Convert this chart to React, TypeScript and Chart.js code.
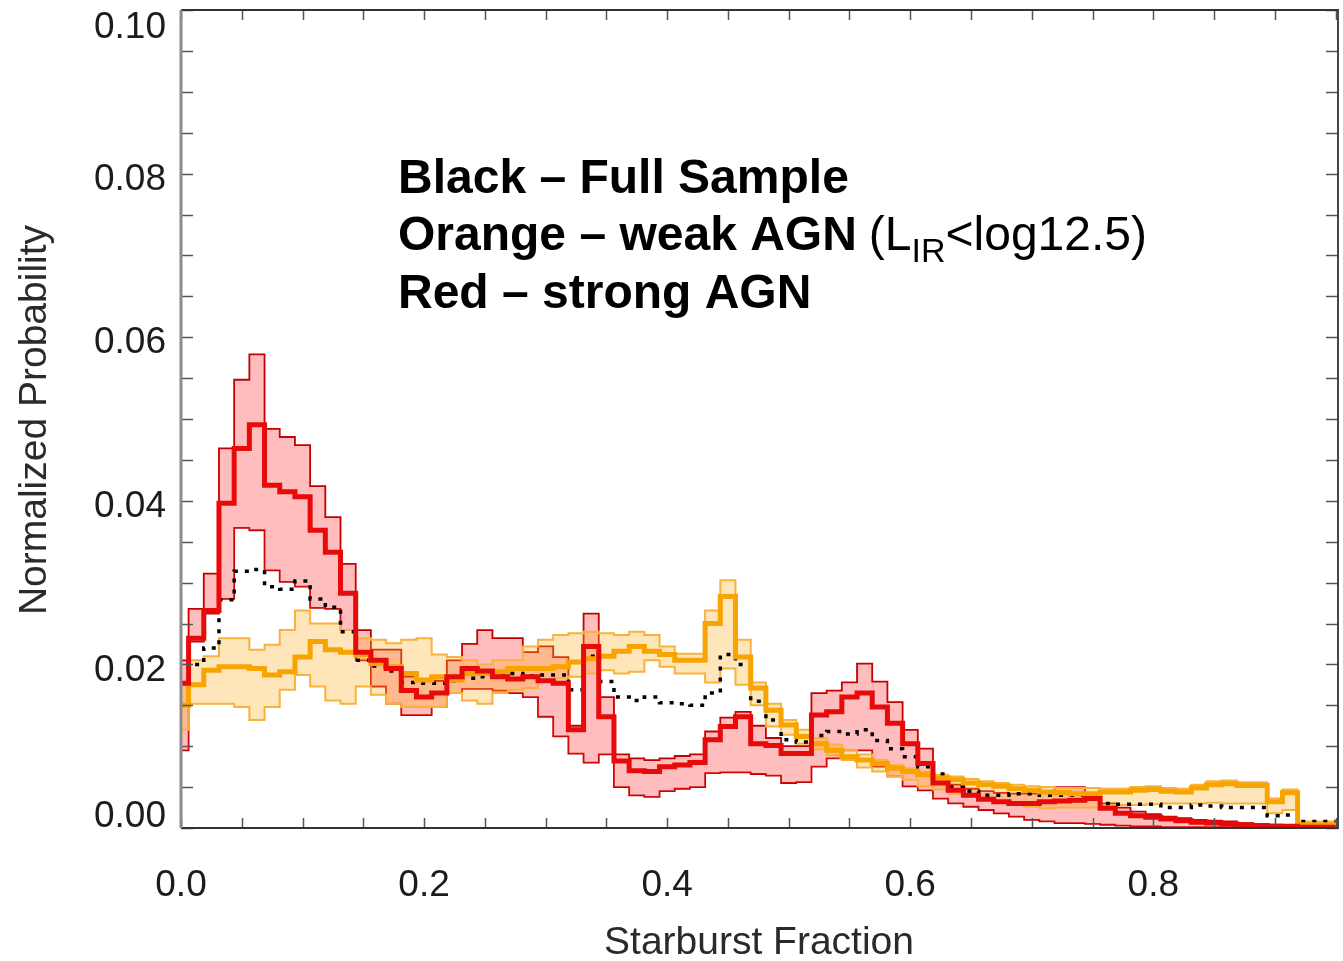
import React, { useEffect, useRef } from "react";
import { Chart, registerables } from "chart.js";

Chart.register(...registerables);

const W = 1343;
const H = 961;

// Bin centres of the histogram (starburst fraction)
const starburstFraction = [
  0.0, 0.0125, 0.025, 0.0375, 0.05, 0.0625, 0.075, 0.0875, 0.1, 0.1125,
  0.125, 0.1375, 0.15, 0.1625, 0.175, 0.1875, 0.2, 0.2125, 0.225, 0.2375,
  0.25, 0.2625, 0.275, 0.2875, 0.3, 0.3125, 0.325, 0.3375, 0.35, 0.3625,
  0.375, 0.3875, 0.4, 0.4125, 0.425, 0.4375, 0.45, 0.4625, 0.475, 0.4875,
  0.5, 0.5125, 0.525, 0.5375, 0.55, 0.5625, 0.575, 0.5875, 0.6, 0.6125,
  0.625, 0.6375, 0.65, 0.6625, 0.675, 0.6875, 0.7, 0.7125, 0.725, 0.7375,
  0.75, 0.7625, 0.775, 0.7875, 0.8, 0.8125, 0.825, 0.8375, 0.85, 0.8625,
  0.875, 0.8875, 0.9, 0.9125, 0.925, 0.9375, 0.95,
];

// Red – strong AGN
const strongAGN = [
  0.0177, 0.0232, 0.0266, 0.0397, 0.0464, 0.0493, 0.0419, 0.0411, 0.0405, 0.0364,
  0.0337, 0.0287, 0.0215, 0.0205, 0.0195, 0.0168, 0.0160, 0.0165, 0.0185, 0.0195,
  0.0192, 0.0185, 0.0182, 0.0185, 0.0180, 0.0177, 0.0120, 0.0222, 0.0136, 0.0082,
  0.0070, 0.0069, 0.0075, 0.0077, 0.0080, 0.0108, 0.0124, 0.0136, 0.0103, 0.0101,
  0.0091, 0.0091, 0.0138, 0.0142, 0.0160, 0.0165, 0.0148, 0.0128, 0.0103, 0.0079,
  0.0055, 0.0046, 0.0040, 0.0035, 0.0032, 0.0030, 0.0030, 0.0032, 0.0033, 0.0034,
  0.0036, 0.0024, 0.0018, 0.0015, 0.0013, 0.0011, 0.0009, 0.0007, 0.0006, 0.0005,
  0.0004, 0.0003, 0.0002, 0.0002, 0.0001, 0.0001, 0.0001,
];
const strongAGNUpper = [
  0.0205, 0.0268, 0.0311, 0.0464, 0.0548, 0.0579, 0.0488, 0.0478, 0.0468, 0.0418,
  0.0380, 0.0323, 0.0242, 0.0218, 0.0218, 0.0185, 0.0182, 0.0180, 0.0205, 0.0225,
  0.0242, 0.0232, 0.0232, 0.0215, 0.0222, 0.0209, 0.0125, 0.0262, 0.0160, 0.0090,
  0.0085, 0.0083, 0.0085, 0.0088, 0.0090, 0.0118, 0.0135, 0.0142, 0.0125, 0.0110,
  0.0100, 0.0100, 0.0165, 0.0168, 0.0178, 0.0201, 0.0179, 0.0154, 0.0120, 0.0097,
  0.0060, 0.0053, 0.0048, 0.0045, 0.0043, 0.0042, 0.0042, 0.0043, 0.0050, 0.0050,
  0.0040, 0.0030, 0.0025, 0.0020, 0.0017, 0.0014, 0.0012, 0.0010, 0.0009, 0.0008,
  0.0006, 0.0005, 0.0004, 0.0003, 0.0003, 0.0002, 0.0002,
];
const strongAGNLower = [
  0.0095, 0.0228, 0.0262, 0.0280, 0.0367, 0.0364, 0.0315, 0.0301, 0.0295, 0.0269,
  0.0268, 0.0242, 0.0205, 0.0173, 0.0152, 0.0138, 0.0138, 0.0148, 0.0165, 0.0170,
  0.0170, 0.0168, 0.0165, 0.0160, 0.0136, 0.0112, 0.0091, 0.0080, 0.0090, 0.0050,
  0.0040, 0.0038, 0.0045, 0.0048, 0.0050, 0.0067, 0.0068, 0.0068, 0.0066, 0.0064,
  0.0055, 0.0056, 0.0075, 0.0085, 0.0095, 0.0095, 0.0075, 0.0063, 0.0051, 0.0046,
  0.0036, 0.0030, 0.0026, 0.0022, 0.0018, 0.0014, 0.0010, 0.0008, 0.0006, 0.0006,
  0.0005, 0.0004, 0.0003, 0.0002, 0.0002, 0.0001, 0.0001, 0.0001, 0.0001, 0.0001,
  0.0000, 0.0000, 0.0000, 0.0000, 0.0000, 0.0000, 0.0000,
];

// Orange – weak AGN
const weakAGN = [
  0.0150, 0.0175, 0.0193, 0.0197, 0.0197, 0.0195, 0.0187, 0.0191, 0.0209, 0.0228,
  0.0218, 0.0215, 0.0212, 0.0201, 0.0197, 0.0189, 0.0181, 0.0185, 0.0181, 0.0189,
  0.0189, 0.0191, 0.0195, 0.0195, 0.0195, 0.0197, 0.0203, 0.0207, 0.0210, 0.0216,
  0.0222, 0.0216, 0.0212, 0.0205, 0.0205, 0.0250, 0.0283, 0.0209, 0.0171, 0.0144,
  0.0126, 0.0112, 0.0103, 0.0095, 0.0087, 0.0083, 0.0079, 0.0073, 0.0069, 0.0065,
  0.0061, 0.0059, 0.0055, 0.0053, 0.0051, 0.0048, 0.0046, 0.0044, 0.0043, 0.0042,
  0.0042, 0.0044, 0.0044, 0.0046, 0.0047, 0.0045, 0.0044, 0.0049, 0.0053, 0.0054,
  0.0052, 0.0052, 0.0032, 0.0043, 0.0004, 0.0004, 0.0004,
];
const weakAGNUpper = [
  0.0175, 0.0205, 0.0210, 0.0232, 0.0232, 0.0218, 0.0224, 0.0242, 0.0266, 0.0250,
  0.0250, 0.0242, 0.0232, 0.0230, 0.0226, 0.0230, 0.0232, 0.0212, 0.0209, 0.0205,
  0.0200, 0.0205, 0.0205, 0.0222, 0.0230, 0.0236, 0.0238, 0.0240, 0.0238, 0.0236,
  0.0240, 0.0236, 0.0222, 0.0213, 0.0213, 0.0266, 0.0303, 0.0230, 0.0178, 0.0152,
  0.0132, 0.0120, 0.0110, 0.0102, 0.0095, 0.0090, 0.0083, 0.0077, 0.0073, 0.0069,
  0.0065, 0.0063, 0.0060, 0.0057, 0.0055, 0.0053, 0.0051, 0.0050, 0.0049, 0.0049,
  0.0049, 0.0048, 0.0048, 0.0050, 0.0051, 0.0049, 0.0048, 0.0053, 0.0057, 0.0058,
  0.0056, 0.0056, 0.0036, 0.0047, 0.0008, 0.0008, 0.0008,
];
const weakAGNLower = [
  0.0120, 0.0152, 0.0152, 0.0152, 0.0148, 0.0132, 0.0148, 0.0169, 0.0187, 0.0173,
  0.0156, 0.0152, 0.0173, 0.0163, 0.0152, 0.0148, 0.0148, 0.0148, 0.0165, 0.0156,
  0.0152, 0.0165, 0.0169, 0.0171, 0.0181, 0.0183, 0.0185, 0.0189, 0.0193, 0.0189,
  0.0191, 0.0205, 0.0197, 0.0189, 0.0189, 0.0178, 0.0195, 0.0175, 0.0150, 0.0124,
  0.0114, 0.0103, 0.0096, 0.0089, 0.0083, 0.0074, 0.0069, 0.0063, 0.0059, 0.0051,
  0.0047, 0.0042, 0.0038, 0.0035, 0.0032, 0.0030, 0.0026, 0.0024, 0.0025, 0.0025,
  0.0025, 0.0028, 0.0028, 0.0028, 0.0029, 0.0030, 0.0030, 0.0030, 0.0031, 0.0030,
  0.0030, 0.0030, 0.0018, 0.0022, 0.0002, 0.0002, 0.0002,
];

// Black – full sample
const fullSample = [
  0.0150, 0.0200, 0.0220, 0.0279, 0.0314, 0.0316, 0.0295, 0.0292, 0.0302, 0.0280,
  0.0270, 0.0240, 0.0205, 0.0198, 0.0192, 0.0178, 0.0177, 0.0177, 0.0180, 0.0183,
  0.0185, 0.0187, 0.0189, 0.0186, 0.0187, 0.0187, 0.0169, 0.0210, 0.0179, 0.0160,
  0.0156, 0.0160, 0.0153, 0.0152, 0.0150, 0.0165, 0.0212, 0.0200, 0.0155, 0.0132,
  0.0108, 0.0105, 0.0113, 0.0118, 0.0115, 0.0120, 0.0107, 0.0097, 0.0087, 0.0075,
  0.0066, 0.0050, 0.0045, 0.0040, 0.0040, 0.0042, 0.0042, 0.0040, 0.0040, 0.0040,
  0.0040, 0.0030, 0.0029, 0.0029, 0.0029, 0.0025, 0.0025, 0.0028, 0.0027, 0.0025,
  0.0025, 0.0025, 0.0015, 0.0016, 0.0008, 0.0008, 0.0008,
];

const yTickValues = [0, 0.02, 0.04, 0.06, 0.08, 0.1];
const yTickLabels = ["0.00", "0.02", "0.04", "0.06", "0.08", "0.10"];
const xTickValues = [0, 0.2, 0.4, 0.6, 0.8];
const xTickLabels = ["0.0", "0.2", "0.4", "0.6", "0.8"];

const FONT = '"Liberation Sans", Arial, Helvetica, sans-serif';

const toPoints = (ys: number[]) =>
  starburstFraction.map((x, i) => ({ x, y: ys[i] }));

const framePlugin = {
  id: "idlFrame",
  afterDatasetsDraw(chart: any) {
    const { ctx, chartArea: a, scales } = chart;
    const xs = scales.x;
    const ys = scales.y;
    ctx.save();

    // ticks (inward, all four sides)
    ctx.strokeStyle = "#555";
    ctx.lineWidth = 1.5;
    for (let i = 0; i <= 20; i++) {
      const v = i * 0.005;
      const y = Math.round(ys.getPixelForValue(v)) + 0.5;
      ctx.beginPath();
      ctx.moveTo(a.left, y);
      ctx.lineTo(a.left + 12, y);
      ctx.moveTo(a.right, y);
      ctx.lineTo(a.right - 12, y);
      ctx.stroke();
    }
    for (let i = 0; i <= 19; i++) {
      const v = i * 0.05;
      const x = Math.round(xs.getPixelForValue(v)) + 0.5;
      ctx.beginPath();
      ctx.moveTo(x, a.bottom);
      ctx.lineTo(x, a.bottom - 10);
      ctx.moveTo(x, a.top);
      ctx.lineTo(x, a.top + 10);
      ctx.stroke();
    }

    // frame
    ctx.strokeStyle = "#333";
    ctx.lineWidth = 1.8;
    ctx.beginPath();
    ctx.moveTo(a.left, a.top);
    ctx.lineTo(a.right, a.top);
    ctx.lineTo(a.right, a.bottom);
    ctx.lineTo(a.left, a.bottom);
    ctx.stroke();
    ctx.strokeStyle = "#8c8c8c";
    ctx.lineWidth = 3;
    ctx.beginPath();
    ctx.moveTo(a.left, a.top);
    ctx.lineTo(a.left, a.bottom);
    ctx.stroke();

    // tick labels
    ctx.fillStyle = "#1c1c1c";
    ctx.font = `37px ${FONT}`;
    ctx.textAlign = "right";
    ctx.textBaseline = "middle";
    yTickValues.forEach((v, i) => {
      let y = ys.getPixelForValue(v) + 6;
      y = Math.max(28, Math.min(817, y));
      ctx.fillText(yTickLabels[i], 166, y);
    });
    ctx.textAlign = "center";
    xTickValues.forEach((v, i) => {
      ctx.fillText(xTickLabels[i], xs.getPixelForValue(v), 886);
    });

    // axis titles
    ctx.fillStyle = "#2a2a2a";
    ctx.font = `39px ${FONT}`;
    ctx.fillText("Starburst Fraction", 759, 943);
    ctx.save();
    ctx.translate(35, 420);
    ctx.rotate(-Math.PI / 2);
    ctx.fillText("Normalized Probability", 0, 0);
    ctx.restore();

    // annotation
    ctx.fillStyle = "#000";
    ctx.textAlign = "left";
    ctx.textBaseline = "alphabetic";
    const bold = `bold 48px ${FONT}`;
    const normal = `48px ${FONT}`;
    const x0 = 398;
    ctx.font = bold;
    ctx.fillText("Black \u2013 Full Sample", x0, 193);
    const l2 = "Orange \u2013 weak AGN";
    ctx.fillText(l2, x0, 250);
    let cx = x0 + ctx.measureText(l2).width + 12;
    ctx.font = normal;
    ctx.fillText("(L", cx, 250);
    cx += ctx.measureText("(L").width;
    ctx.font = `34px ${FONT}`;
    ctx.fillText("IR", cx, 262);
    cx += ctx.measureText("IR").width;
    ctx.font = normal;
    ctx.fillText("<log12.5)", cx, 250);
    ctx.font = bold;
    ctx.fillText("Red \u2013 strong AGN", x0, 308);

    ctx.restore();
  },
};

export default function App() {
  const canvasRef = useRef<HTMLCanvasElement | null>(null);

  useEffect(() => {
    const canvas = canvasRef.current;
    if (!canvas) return;
    const base = {
      stepped: "middle" as const,
      pointRadius: 0,
      tension: 0,
      fill: false,
    };
    const chart = new Chart(canvas, {
      type: "line",
      data: {
        datasets: [
          {
            ...base,
            label: "Red – strong AGN",
            data: toPoints(strongAGN),
            borderColor: "#e60a0a",
            borderWidth: 5,
            order: 0,
          },
          {
            ...base,
            label: "Orange – weak AGN",
            data: toPoints(weakAGN),
            borderColor: "#f7a300",
            borderWidth: 5,
            order: 1,
          },
          {
            ...base,
            label: "Black – Full Sample",
            data: toPoints(fullSample),
            borderColor: "#000",
            borderWidth: 3.5,
            borderDash: [4, 7],
            order: 2,
          },
          {
            ...base,
            label: "weak upper",
            data: toPoints(weakAGNUpper),
            borderColor: "#f8b23c",
            borderWidth: 2,
            fill: "+1",
            backgroundColor: "rgba(255,178,40,0.32)",
            order: 3,
          },
          {
            ...base,
            label: "weak lower",
            data: toPoints(weakAGNLower),
            borderColor: "#f8b23c",
            borderWidth: 2,
            order: 4,
          },
          {
            ...base,
            label: "strong upper",
            data: toPoints(strongAGNUpper),
            borderColor: "#c40000",
            borderWidth: 1.8,
            fill: "+1",
            backgroundColor: "rgba(255,50,50,0.32)",
            order: 5,
          },
          {
            ...base,
            label: "strong lower",
            data: toPoints(strongAGNLower),
            borderColor: "#c40000",
            borderWidth: 1.8,
            order: 6,
          },
        ],
      },
      options: {
        animation: false,
        responsive: false,
        maintainAspectRatio: false,
        layout: { padding: { top: 10, right: 5, left: 0, bottom: 0 } },
        plugins: {
          legend: { display: false },
          tooltip: { enabled: false },
        },
        scales: {
          x: {
            type: "linear",
            min: 0,
            max: 0.952,
            ticks: { display: false },
            grid: { display: false },
            border: { display: false },
            afterFit: (s: any) => {
              s.height = 133;
            },
          },
          y: {
            type: "linear",
            min: 0,
            max: 0.1,
            ticks: { display: false },
            grid: { display: false },
            border: { display: false },
            afterFit: (s: any) => {
              s.width = 181;
            },
          },
        },
      },
      plugins: [framePlugin],
    } as any);
    return () => chart.destroy();
  }, []);

  return (
    <div style={{ position: "absolute", left: 0, top: 0, width: W, height: H, background: "#fff" }}>
      <canvas ref={canvasRef} width={W} height={H} style={{ display: "block" }} />
    </div>
  );
}
